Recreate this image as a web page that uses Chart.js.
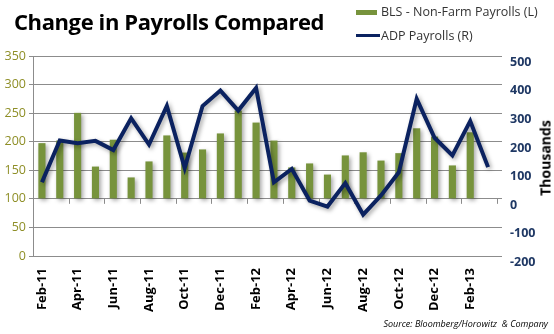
<!DOCTYPE html>
<html>
<head>
<meta charset="utf-8">
<script src="https://cdn.jsdelivr.net/npm/chart.js@4.4.1/dist/chart.umd.min.js"></script>
<style>
body { margin: 0; background: #fff; }
#wrap { position: relative; width: 554px; height: 334px; font-family: "Open Sans", "Liberation Sans", sans-serif; }
#graph1 { position: absolute; left: 0; top: 0; }
#title { position: absolute; left: 14px; top: 6px; font-size: 22px; font-weight: bold; color: #000; white-space: nowrap; letter-spacing: -0.4px; }
.leg { position: absolute; font-size: 12.5px; color: #333; white-space: nowrap; }
#legBox { position: absolute; left: 356px; top: 10px; width: 21px; height: 5px; background: #77933c; }
#legLine { position: absolute; left: 356px; top: 34px; width: 24px; height: 3px; background: #0b2260; }
#thousands { position: absolute; left: 545px; top: 158px; transform: translate(-50%, -50%) rotate(-90deg); font-size: 14px; font-weight: bold; color: #000; white-space: nowrap; }
#source { position: absolute; right: 6px; top: 317px; font-size: 9px; font-style: italic; color: #000; white-space: nowrap; }
</style>
</head>
<body>
<div id="wrap">
  <canvas id="graph1" width="554" height="334"></canvas>
  <div id="title">Change in Payrolls Compared</div>
  <div id="legBox"></div>
  <div class="leg" style="left:381px; top:3px;">BLS - Non-Farm Payrolls (L)</div>
  <div id="legLine"></div>
  <div class="leg" style="left:381px; top:27px;">ADP Payrolls (R)</div>
  <div id="thousands">Thousands</div>
  <div id="source">Source: Bloomberg/Horowitz &nbsp;&amp; Company</div>
</div>
<script>
// monthly categories, labels shown every other month
var months = ['Feb-11', 'Mar-11', 'Apr-11', 'May-11', 'Jun-11', 'Jul-11', 'Aug-11', 'Sep-11', 'Oct-11', 'Nov-11', 'Dec-11', 'Jan-12',
    'Feb-12', 'Mar-12', 'Apr-12', 'May-12', 'Jun-12', 'Jul-12', 'Aug-12', 'Sep-12', 'Oct-12', 'Nov-12', 'Dec-12', 'Jan-13', 'Feb-13', 'Mar-13'];

// thousands, read against the right hand scale
var blsPayrolls = [195, 204, 301, 113, 207, 75, 131, 222, 162, 173, 229, 309, 267, 204, 110, 124, 85, 152, 163, 134, 160, 247, 218, 117, 233, null];
var adpPayrolls = [58, 204, 195, 203, 171, 282, 190, 325, 108, 325, 379, 309, 388, 58, 105, -6, -27, 55, -55, 12, 93, 350, 214, 152, 272, 111];

var leftTicks = [0, 350, 50];
var rightTicks = [-200, 500, 100];

var gridColor = '#8c8c8c';

// soft drop shadow like the excel bars / line
var shadowPlugin = {
    id: 'shadow',
    beforeDatasetDraw: function (chart) {
        var c = chart.ctx;
        c.save();
        c.shadowColor = 'rgba(0,0,0,0.35)';
        c.shadowBlur = 4;
        c.shadowOffsetX = 2;
        c.shadowOffsetY = 2;
    },
    afterDatasetDraw: function (chart) {
        chart.ctx.restore();
    }
};

// category axis crosses at 0 of the right scale, with a tick every 2 months
var crossAxis = {
    id: 'crossAxis',
    beforeDatasetsDraw: function (chart) {
        var c = chart.ctx;
        var x = chart.scales.x;
        var yPix = chart.scales.y1.getPixelForValue(0);
        var step = (x.right - x.left) / months.length;
        c.save();
        c.strokeStyle = gridColor;
        c.lineWidth = 1;
        c.beginPath();
        for (var i = 0; i <= months.length; i += 2) {
            var px = Math.round(x.left + i * step) + 0.5;
            c.moveTo(px, yPix);
            c.lineTo(px, yPix + 5);
        }
        c.stroke();
        c.restore();
    }
};

var ctx = document.getElementById('graph1').getContext('2d');

var config = {
    type: 'bar',
    data: {
        labels: months,
        datasets: [
            {
                type: 'line',
                label: 'ADP Payrolls (R)',
                data: adpPayrolls,
                yAxisID: 'y1',
                borderColor: '#0b2260',
                borderWidth: 4,
                pointRadius: 0,
                tension: 0,
                borderJoinStyle: 'miter',
                order: 0
            },
            {
                label: 'BLS - Non-Farm Payrolls (L)',
                data: blsPayrolls,
                yAxisID: 'y1',
                backgroundColor: '#77933c',
                barPercentage: 0.4,
                categoryPercentage: 1,
                order: 1
            }
        ]
    },
    options: {
        responsive: false,
        animation: false,
        layout: { padding: { top: 56, left: 0, right: 0, bottom: 0 } },
        plugins: {
            legend: { display: false },
            tooltip: { enabled: false }
        },
        scales: {
            x: {
                offset: true,
                grid: { display: false },
                border: { display: false },
                ticks: {
                    autoSkip: false,
                    maxRotation: 90,
                    minRotation: 90,
                    color: '#000',
                    padding: 4,
                    font: { family: 'Open Sans', size: 13, weight: 'bold' },
                    callback: function (v, i) { return i % 2 === 0 ? months[i] : ''; }
                },
                afterFit: function (s) { s.height = 78; }
            },
            y: {
                position: 'left',
                min: leftTicks[0],
                max: leftTicks[1],
                grid: { drawOnChartArea: false, color: gridColor, tickLength: 4 },
                border: { display: true, color: gridColor },
                ticks: {
                    stepSize: leftTicks[2],
                    color: '#8e8e26',
                    padding: 3,
                    font: { family: 'Open Sans', size: 12.5 }
                },
                afterFit: function (s) { s.width = 33; }
            },
            y1: {
                position: 'right',
                min: rightTicks[0],
                max: rightTicks[1],
                grid: { color: gridColor, tickLength: 5 },
                border: { display: false },
                ticks: {
                    stepSize: rightTicks[2],
                    color: '#1f3864',
                    align: 'start',
                    padding: 8,
                    font: { family: 'Open Sans', size: 12.5, weight: 'bold' }
                },
                afterFit: function (s) { s.width = 57; }
            }
        }
    },
    plugins: [shadowPlugin, crossAxis]
};

var graph1 = new Chart(ctx, config);
</script>
</body>
</html>
